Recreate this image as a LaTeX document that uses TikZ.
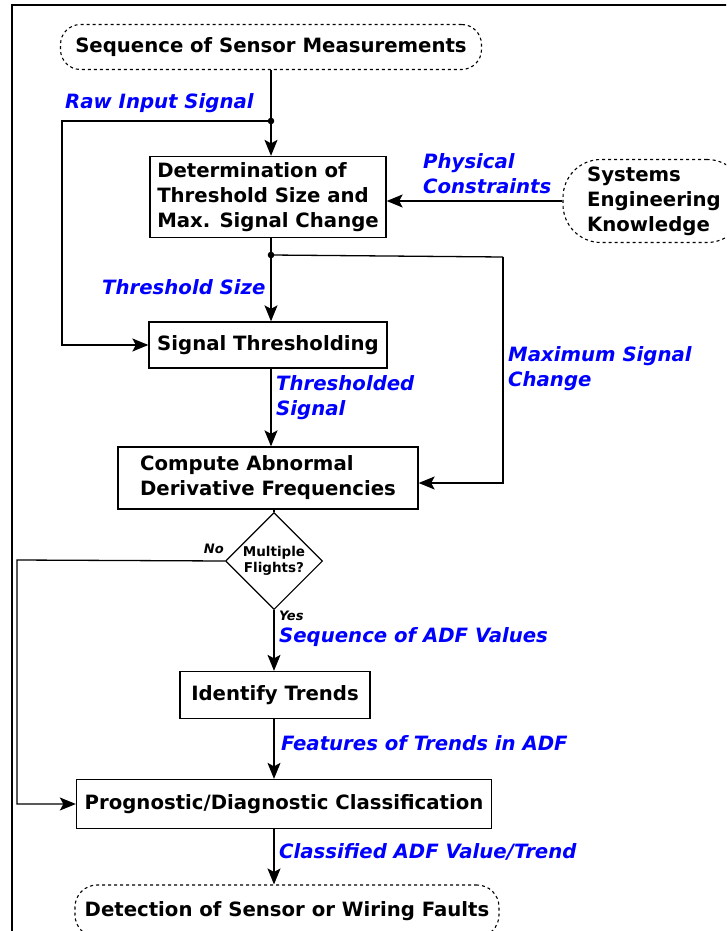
\documentclass[tikz,border=0pt]{standalone}
\usepackage{fontspec}
\setmainfont{DejaVu Sans}
\usepackage{xcolor}
\usepackage{tikz}
\usetikzlibrary{arrows.meta, positioning, shapes.geometric}
\definecolor{flowLabel}{HTML}{0000FF}

\begin{document}
\begin{tikzpicture}[
  x=1pt, y=-1pt,
  font=\fontsize{19.7}{25}\selectfont\bfseries,
  proc/.style={draw, line width=1.3pt, align=left, inner sep=0pt},
  term/.style={draw, dashed, line width=1.1pt, rounded corners=20pt, align=left, inner sep=0pt},
  cond/.style={draw, diamond, line width=1.1pt, inner sep=0pt, minimum width=97pt, minimum height=97pt,
               align=center, font=\fontsize{13.5}{16}\selectfont\bfseries},
  lbl/.style={text=flowLabel, font=\fontsize{19.7}{25}\selectfont\bfseries\itshape, inner sep=0pt, anchor=west, align=left},
  ans/.style={font=\fontsize{13}{15}\selectfont\bfseries\itshape, inner sep=0pt},
  a/.style={-{Stealth[length=16pt, width=13pt, inset=3.5pt]}, line width=1.3pt},
  ln/.style={line width=1.3pt}
]
\useasboundingbox (0,0) rectangle (726,931);
\clip (0,0) rectangle (726,931);
\draw[line width=1.6pt] (12,5) rectangle (760,960);

% terminals
\node[term, minimum width=421pt, minimum height=45pt] (seq) at (271,47) {Sequence of Sensor Measurements};
\node[term, rounded corners=38pt, minimum width=182pt, minimum height=83pt] (sek) at (654,201) {Systems\\Engineering\\Knowledge};
\node[term, rounded corners=22pt, minimum width=424pt, minimum height=52pt] (flt) at (287,911) {Detection of Sensor or Wiring Faults};

% process boxes
\node[proc, minimum width=236pt, minimum height=81pt] (det) at (268,197) {Determination of\\Threshold Size and\\Max. Signal Change};
\node[proc, minimum width=238pt, minimum height=46pt] (thr) at (268,345) {Signal Thresholding};
\node[proc, minimum width=300pt, minimum height=62pt] (cad) at (268,478) {Compute Abnormal\\Derivative Frequencies};
\node[cond] (mfl) at (274,561) {Multiple\\Flights?};
\node[proc, minimum width=190pt, minimum height=47pt] (idt) at (275,695) {Identify Trends};
\node[proc, minimum width=415pt, minimum height=49pt] (pdc) at (284,804) {Prognostic/Diagnostic Classification};

% junctions and bends
\coordinate (rawj) at (271,121);
\coordinate (rawc) at (62,121);
\coordinate (thrj) at (271,255);
\coordinate (maxc) at (503,257);
\coordinate (noc) at (17,560);
\coordinate (lowx) at (274,0);
\fill (rawj) circle (3.3pt);
\fill (thrj) circle (3.3pt);

% connectors
\draw[a] (seq.south -| rawj) -- (det.north -| rawj);
\draw[a] (rawj) -- (rawc) |- (thr);
\draw[a] (sek.west) -- (sek.west -| det.east);
\draw[a] (det.south -| thrj) -- (thr.north -| thrj);
\draw[ln] (thrj) -- (maxc);
\draw[a] (maxc) |- ([yshift=-5pt]cad.east);
\draw[a] (thr.south -| thrj) -- (cad.north -| thrj);
\draw[ln] (cad.south -| mfl) -- (mfl.north);
\draw[a] (mfl.west) -- (noc) |- (pdc);
\draw[a] (mfl) -- (idt.north -| mfl);
\draw[a] (idt.south -| lowx) -- (pdc.north -| lowx);
\draw[a] (pdc.south -| lowx) -- (flt.north -| lowx);

% labels
\node[lbl] (rawl) at (65,103) {Raw Input Signal};
\node[lbl] (phyl) at (423,174) {Physical\\Constraints};
\node[lbl] (thsl) at (102,287) {Threshold Size};
\node[lbl] (maxl) at (508,369) {Maximum Signal\\Change};
\node[lbl] (thdl) at (276,398) {Thresholded\\Signal};
\node[lbl] (seql) at (279,637) {Sequence of ADF Values};
\node[lbl] (fetl) at (281,743) {Features of Trends in ADF};
\node[lbl] (clsl) at (279,852) {Classified ADF Value/Trend};
\node[ans, anchor=east] (nol) at (224,549) {No};
\node[ans, anchor=west] (yesl) at (279,616) {Yes};
\end{tikzpicture}
\end{document}
